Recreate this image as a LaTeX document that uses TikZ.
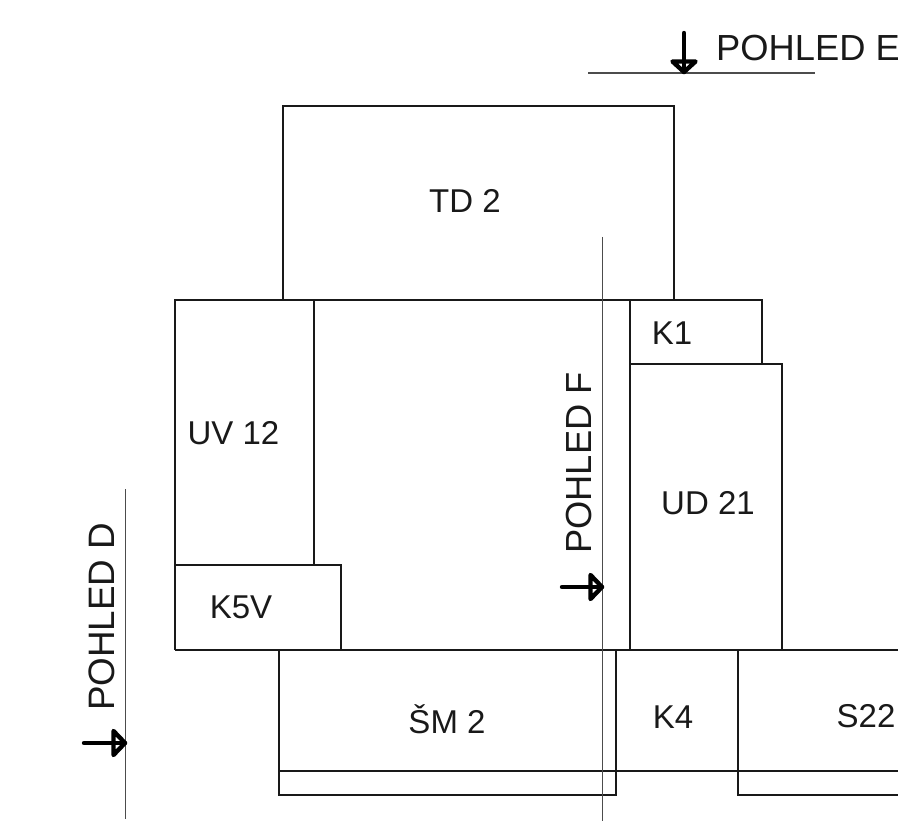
\documentclass[tikz,border=0pt]{standalone}
\usepackage{fontspec}
\setmainfont{Liberation Sans}
\tikzset{
  box/.style={draw=black!90,line width=1.6pt,line join=miter},
  thin line/.style={draw=black!70,line width=1.3pt},
  arrowmark/.style={draw=black,line width=4.4pt,line cap=round,line join=round},
  lab/.style={inner sep=0pt,font=\fontsize{33}{33}\selectfont,text=black!90},
  view/.style={inner sep=0pt,font=\fontsize{36.3}{36}\selectfont,text=black!90}
}
\begin{document}
\begin{tikzpicture}[x=1pt,y=-1pt]
\useasboundingbox (0,0) rectangle (898,821);
\clip (0,0) rectangle (898,821);
% boxes
\draw[box] (283,300) -- (283,106) -- (674,106) -- (674,300);
\draw[box] (630,364) -- (762,364) -- (762,300) -- (175,300) -- (175,650);
\draw[box] (314,300) -- (314,565);
\draw[box] (175,565) -- (341,565) -- (341,650);
\draw[box] (630,300) -- (630,650);
\draw[box] (630,364) -- (782,364) -- (782,650);
\draw[box] (175,650) -- (898,650);
\draw[box] (279,650) -- (279,795) -- (616,795) -- (616,650);
\draw[box] (279,771) -- (898,771);
\draw[box] (738,650) -- (738,795) -- (898,795);
% thin lines
\draw[thin line] (588,73) -- (815,73);
\draw[thin line] (602.5,237) -- (602.5,821);
\draw[thin line] (125.5,489) -- (125.5,819);
% view arrows
\draw[arrowmark] (684,33) -- (684,72);
\draw[arrowmark] (672.5,61.5) -- (695.5,61.5) -- (684,72) -- cycle;
\draw[arrowmark] (562,587) -- (602,587);
\draw[arrowmark] (590.5,575) -- (590.5,599) -- (602,587) -- cycle;
\draw[arrowmark] (84,743) -- (125,743);
\draw[arrowmark] (113.5,731) -- (113.5,755) -- (125,743) -- cycle;
% labels
\node[lab] (td) at (465,201) {TD 2};
\node[lab] (uv) at (233.5,433) {UV 12};
\node[lab] (k5) at (241,607) {K5V};
\node[lab] (k1) at (672,333) {K1};
\node[lab] (ud) at (708,503) {UD 21};
\node[lab] (sm) at (447,719) {ŠM 2};
\node[lab] (k4) at (673,717) {K4};
\node[lab] (s22) at (866,716) {S22};
\node[view,anchor=base west] (e) at (716,61) {POHLED E};
\node[view,anchor=base west,rotate=90] (f) at (591,554) {POHLED F};
\node[view,anchor=base west,rotate=90,font=\fontsize{36.8}{37}\selectfont] (d) at (114,711) {POHLED D};
\end{tikzpicture}
\end{document}
